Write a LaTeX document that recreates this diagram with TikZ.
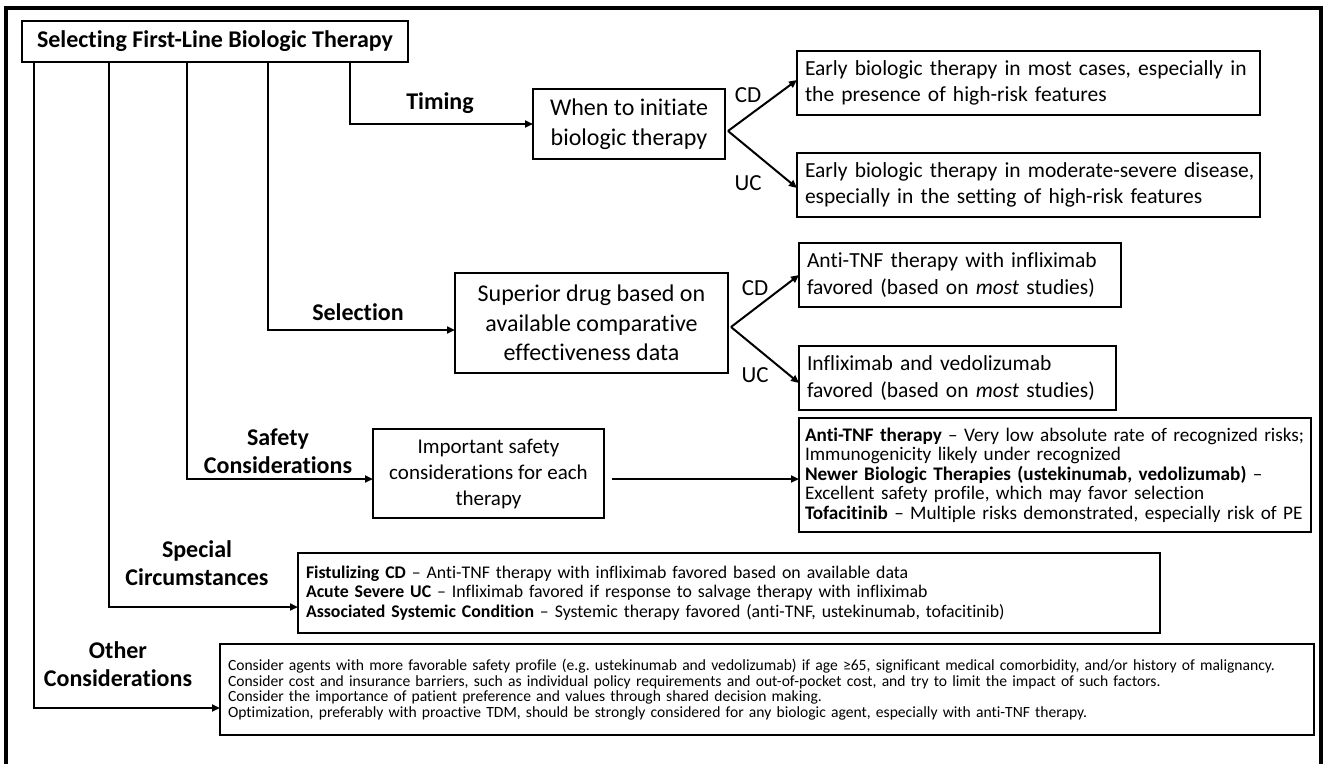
\documentclass[tikz,border=0pt]{standalone}
\usepackage{fontspec}
\setmainfont{Carlito}[Ligatures={TeX,NoCommon}]
\usetikzlibrary{arrows.meta}
\frenchspacing
\newcommand\szMain{\fontsize{24}{29.5}\selectfont}
\newcommand\szLbl{\fontsize{24}{28}\selectfont}
\newcommand\szB{\fontsize{21.5}{26.5}\selectfont}
\newcommand\szImp{\fontsize{21}{26}\selectfont}
\newcommand\szCD{\fontsize{23}{28}\selectfont}
\newcommand\szSaf{\fontsize{19.2}{19.5}\selectfont}
\newcommand\szSpec{\fontsize{17.8}{19.3}\selectfont}
\newcommand\szOth{\fontsize{15.6}{15.6}\selectfont}
\tikzset{
  box/.style={draw, line width=1.2pt, inner sep=0pt, outer sep=0pt},
  conn/.style={line width=2pt, -{Triangle[length=8pt,width=7pt]}},
  lbl/.style={font=\bfseries\szLbl, align=center, inner sep=0pt},
  cdlbl/.style={font=\szCD, inner sep=0pt},
}
\begin{document}
\begin{tikzpicture}[x=1pt,y=-1pt]
\useasboundingbox (0,0) rectangle (1327,763);
\draw[line width=4pt] (6,8) rectangle (1321,800);

% boxes
\node[box, line width=2.6pt, minimum width=386pt, minimum height=41pt, font=\bfseries\szMain] (title) at (215,41.5) {Selecting First-Line Biologic Therapy};
\node[box, minimum width=192pt, minimum height=70pt, align=center, font=\szMain] (when) at (629,124) {When to initiate\\biologic therapy};
\node[box, minimum height=64pt, text width=447pt, inner xsep=8pt, align=left, font=\szB] (e1) at (1028.5,83) {\mbox{Early biologic therapy in most cases, especially in}\\\mbox{the presence of high-risk features}};
\node[box, minimum height=64pt, text width=447pt, inner xsep=8pt, align=left, font=\szB] (e2) at (1028.5,185) {\mbox{Early biologic therapy in moderate-severe disease,}\\\mbox{especially in the setting of high-risk features}};
\node[box, minimum width=273pt, minimum height=100pt, align=center, font=\szMain] (sup) at (591.5,323) {Superior drug based on\\available comparative\\effectiveness data};
\node[box, minimum height=64pt, text width=306pt, inner xsep=8pt, align=left, font=\szB] (ant) at (960,275) {\mbox{Anti-TNF therapy with infliximab}\\\mbox{favored (based on \textit{most} studies)}};
\node[box, minimum height=64pt, text width=301pt, inner xsep=8pt, align=left, font=\szB] (inf) at (957.5,378) {\mbox{Infliximab and vedolizumab}\\\mbox{favored (based on \textit{most} studies)}};
\node[box, minimum width=231pt, minimum height=89pt, align=center, font=\szImp] (imp) at (488.5,473.5) {Important safety\\considerations for each\\therapy};
\node[box, minimum height=114pt, text width=500pt, inner xsep=6pt, align=left, font=\szSaf] (saf) at (1055,475) {\mbox{\textbf{Anti-TNF therapy} – Very low absolute rate of recognized risks;}\\\mbox{Immunogenicity likely under recognized}\\\mbox{\textbf{Newer Biologic Therapies (ustekinumab, vedolizumab)} –}\\\mbox{Excellent safety profile, which may favor selection}\\\mbox{\textbf{Tofacitinib} – Multiple risks demonstrated, especially risk of PE}};
\node[box, minimum height=80pt, text width=846pt, inner xsep=8pt, align=left, font=\szSpec] (spec) at (729,593) {\mbox{\textbf{Fistulizing CD} – Anti-TNF therapy with infliximab favored based on available data}\\\mbox{\textbf{Acute Severe UC} – Infliximab favored if response to salvage therapy with infliximab}\\\mbox{\textbf{Associated Systemic Condition} – Systemic therapy favored (anti-TNF, ustekinumab, tofacitinib)}};
\node[box, minimum height=91pt, text width=1078pt, inner xsep=8pt, align=left, font=\szOth] (oth) at (767,689.5) {\mbox{Consider agents with more favorable safety profile (e.g. ustekinumab and vedolizumab) if age ≥65, significant medical comorbidity, and/or history of malignancy.}\\\mbox{Consider cost and insurance barriers, such as individual policy requirements and out-of-pocket cost, and try to limit the impact of such factors.}\\\mbox{Consider the importance of patient preference and values through shared decision making.}\\\mbox{Optimization, preferably with proactive TDM, should be strongly considered for any biologic agent, especially with anti-TNF therapy.}};

% branch labels
\node[lbl] (lT) at (440,103) {Timing};
\node[lbl] (lS) at (358,312) {Selection};
\node[lbl] (lSC) at (278,451) {Safety\\Considerations};
\node[lbl] (lSp) at (197,563) {Special\\Circumstances};
\node[lbl] (lO) at (118,664) {Other\\Considerations};
\node[cdlbl] (cd1) at (748,95) {CD};
\node[cdlbl] (uc1) at (748,183) {UC};
\node[cdlbl] (cd2) at (755,288) {CD};
\node[cdlbl] (uc2) at (755,375) {UC};

% helper coordinates
\coordinate (xT) at (350,0);
\coordinate (xS) at (268,0);
\coordinate (xSC) at (187,0);
\coordinate (xSp) at (109,0);
\coordinate (xO) at (34,0);
\coordinate (ySel) at (0,330);
\coordinate (ySaf) at (0,479);
\coordinate (ySp) at (0,607);
\coordinate (yO) at (0,708);
\coordinate (f1) at (728,131);
\coordinate (f2) at (731,327);

% connectors
\draw[conn] (title.south -| xT) |- (when.west);
\draw[conn] (title.south -| xS) |- (sup.west |- ySel);
\draw[conn] (title.south -| xSC) |- (imp.west |- ySaf);
\draw[conn] (title.south -| xSp) |- (spec.west |- ySp);
\draw[conn] (title.south -| xO) |- (oth.west |- yO);
\draw[conn, shorten <=8pt] (imp.east |- ySaf) -- (saf.west |- ySaf);
\draw[conn] (f1) -- (e1.west |- 0,80);
\draw[conn] (f1) -- (e2.west |- 0,188);
\draw[conn] (f2) -- (ant.west);
\draw[conn] (f2) -- (inf.west |- 0,383);
\end{tikzpicture}
\end{document}
